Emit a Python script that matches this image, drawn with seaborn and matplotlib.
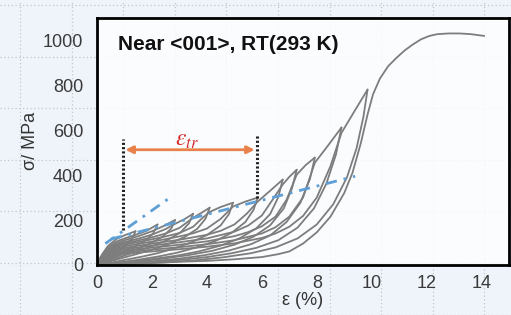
import matplotlib
matplotlib.use("Agg")
import matplotlib.pyplot as plt
import numpy as np
import pandas as pd
import seaborn as sns
from matplotlib.lines import Line2D

# loading / unloading branches, (strain %, stress MPa)
c1_load = [(0, 0), (0.1, 30), (0.2, 50), (0.4, 85), (0.7, 115), (1.0, 132), (1.4, 150)]
c1_unload = [(1.4, 150), (1.3, 122), (1.1, 92), (0.8, 64), (0.5, 40), (0.2, 15), (0, 0)]
c2_load = [(0, 0), (0.2, 46), (0.4, 78), (0.7, 104), (1.0, 118), (1.4, 134), (1.8, 152), (2.2, 180)]
c2_unload = [(2.2, 180), (2.05, 142), (1.8, 112), (1.4, 84), (1.0, 60), (0.6, 38), (0.3, 19), (0, 0)]
c3_load = [(0, 0), (0.2, 43), (0.4, 72), (0.7, 96), (1.0, 110), (1.5, 128), (2.0, 150), (2.4, 172), (2.84, 200)]
c3_unload = [(2.84, 200), (2.7, 162), (2.4, 127), (2.0, 99), (1.5, 73), (1.0, 51), (0.5, 27), (0, 0)]
c4_load = [(0, 0), (0.2, 40), (0.4, 68), (0.7, 90), (1.0, 102), (1.5, 117), (2.0, 135), (2.5, 160),
           (2.84, 183), (3.2, 205), (3.5, 228)]
c4_unload = [(3.5, 228), (3.35, 186), (3.05, 146), (2.6, 113), (2.0, 83), (1.4, 58), (0.8, 34), (0.3, 12), (0, 0)]
c5_load = [(0, 0), (0.2, 38), (0.4, 64), (0.7, 85), (1.0, 96), (1.5, 109), (2.0, 123), (2.5, 140),
           (3.0, 165), (3.5, 210), (3.8, 232), (4.1, 255)]
c5_unload = [(4.1, 255), (3.95, 206), (3.65, 161), (3.2, 125), (2.6, 93), (2.0, 68), (1.4, 47), (0.8, 27),
             (0.3, 10), (0, 0)]
c6_load = [(0, 0), (0.2, 36), (0.4, 60), (0.7, 80), (1.0, 90), (1.5, 102), (2.0, 114), (2.5, 127),
           (3.0, 142), (3.5, 170), (3.8, 205), (4.1, 236), (4.5, 258), (4.95, 277)]
c6_unload = [(4.95, 277), (4.8, 226), (4.5, 176), (4.0, 133), (3.4, 99), (2.8, 73), (2.2, 52), (1.6, 36),
             (1.0, 22), (0.5, 10), (0, 0)]
c7_load = [(0, 0), (0.2, 34), (0.4, 56), (0.7, 74), (1.0, 83), (1.5, 94), (2.0, 104), (2.5, 115),
           (3.0, 127), (3.5, 141), (4.0, 162), (4.5, 205), (4.95, 260), (5.4, 282), (5.85, 300)]
c7_unload = [(5.85, 300), (5.7, 246), (5.4, 191), (4.9, 143), (4.3, 106), (3.6, 77), (2.9, 54), (2.2, 37),
             (1.5, 23), (0.8, 11), (0, 0)]
c8_load = [(0, 0), (0.2, 32), (0.4, 52), (0.7, 68), (1.0, 76), (2.0, 95), (3.0, 112), (4.0, 134),
           (4.5, 152), (5.0, 180), (5.45, 228), (5.85, 282), (6.3, 330), (6.76, 380)]
c8_unload = [(6.76, 380), (6.6, 302), (6.3, 226), (5.8, 163), (5.2, 119), (4.5, 86), (3.7, 60), (2.9, 41),
             (2.0, 26), (1.2, 14), (0.5, 5), (0, 0)]
c9_load = [(0, 0), (0.2, 30), (0.4, 48), (0.7, 62), (1.0, 70), (2.0, 86), (3.0, 101), (4.0, 118),
           (5.0, 148), (5.5, 175), (6.0, 220), (6.4, 292), (6.76, 358), (7.0, 392), (7.27, 424)]
c9_unload = [(7.27, 424), (7.1, 342), (6.8, 252), (6.3, 176), (5.7, 126), (5.0, 90), (4.2, 63), (3.3, 43),
             (2.4, 28), (1.5, 15), (0.7, 6), (0, 0)]
c10_load = [(0, 0), (0.2, 28), (0.4, 44), (0.7, 56), (1.0, 63), (2.0, 77), (3.0, 90), (4.0, 105),
            (5.0, 128), (5.5, 146), (6.0, 172), (6.5, 215), (6.9, 290), (7.27, 402), (7.6, 445), (7.93, 478)]
c10_unload = [(7.93, 478), (7.75, 382), (7.4, 276), (6.9, 191), (6.3, 131), (5.6, 92), (4.8, 64), (3.9, 43),
              (3.0, 28), (2.0, 16), (1.0, 7), (0, 0)]
c11_load = [(0, 0), (0.2, 25), (0.4, 40), (0.7, 50), (1.0, 56), (2.0, 68), (3.0, 79), (4.0, 92),
            (5.0, 110), (6.0, 140), (6.5, 168), (7.0, 215), (7.5, 300), (7.93, 455), (8.4, 530), (8.9, 612)]
c11_unload = [(8.9, 612), (8.7, 492), (8.35, 362), (7.9, 252), (7.3, 166), (6.6, 110), (5.8, 76), (4.9, 52),
              (4.0, 35), (3.0, 22), (2.0, 12), (1.0, 5), (0, 0)]
c12_load = [(0, 0), (0.2, 22), (0.4, 35), (0.7, 44), (1.0, 50), (2.0, 60), (3.0, 70), (4.0, 81),
            (5.0, 96), (6.0, 120), (6.5, 140), (7.0, 170), (7.5, 218), (8.0, 300), (8.5, 440), (8.9, 588),
            (9.4, 690), (9.85, 781)]
c12_unload = [(9.85, 781), (9.7, 660), (9.45, 520), (9.1, 390), (8.6, 270), (8.0, 180), (7.3, 118), (6.5, 78),
              (5.6, 52), (4.6, 34), (3.6, 21), (2.6, 12), (1.6, 6), (0.7, 2), (0, 0)]
final_load = [(0, 0), (1.0, 5), (2.0, 9), (3.0, 14), (4.0, 18), (5.0, 25), (6.0, 35), (6.6, 48), (7.0, 60),
              (7.5, 95), (8.0, 145), (8.5, 215), (9.0, 320), (9.3, 410), (9.6, 540), (9.85, 670),
              (10.05, 760), (10.3, 830), (10.6, 885), (10.9, 922), (11.2, 955), (11.5, 982), (11.8, 1005),
              (12.1, 1020), (12.4, 1028), (12.8, 1031), (13.2, 1031), (13.6, 1028), (14.1, 1020)]

# blue dash-dot fit lines
fit_steep_x = [0.3, 2.6]
fit_steep_y = [95, 295]
fit_plateau_x = [0.5, 9.4]
fit_plateau_y = [115, 395]

# transformation strain markers
etr_start = 0.95
etr_end = 5.82
etr_start_span = [156, 560]
etr_end_span = [300, 580]
etr_level = 513

branches = {
    "c1_load": c1_load, "c1_unload": c1_unload, "c2_load": c2_load, "c2_unload": c2_unload,
    "c3_load": c3_load, "c3_unload": c3_unload, "c4_load": c4_load, "c4_unload": c4_unload,
    "c5_load": c5_load, "c5_unload": c5_unload, "c6_load": c6_load, "c6_unload": c6_unload,
    "c7_load": c7_load, "c7_unload": c7_unload, "c8_load": c8_load, "c8_unload": c8_unload,
    "c9_load": c9_load, "c9_unload": c9_unload, "c10_load": c10_load, "c10_unload": c10_unload,
    "c11_load": c11_load, "c11_unload": c11_unload, "c12_load": c12_load, "c12_unload": c12_unload,
    "final": final_load,
}

rows = []
for name, pts in branches.items():
    for eps, sig in pts:
        rows.append({"branch": name, "strain": eps, "stress": sig})
df = pd.DataFrame(rows)

sns.set_theme(style="white")
plt.rcParams["font.family"] = ["Liberation Sans", "DejaVu Sans"]
plt.rcParams["mathtext.fontset"] = "stix"

fig = plt.figure(figsize=(5.11, 3.15), dpi=100, facecolor="#eef4fa")

# faint dotted page grid behind everything
for gx in np.arange(20, 511, 51.6):
    fig.add_artist(Line2D([gx / 511, gx / 511], [0, 1], transform=fig.transFigure,
                          color="#bfc7cf", lw=0.9, ls=(0, (1, 2)), zorder=-5))
for gy in np.arange(5, 315, 51.6):
    fig.add_artist(Line2D([0, 1], [1 - gy / 315, 1 - gy / 315], transform=fig.transFigure,
                          color="#bfc7cf", lw=0.9, ls=(0, (1, 2)), zorder=-5))

ax = fig.add_axes([0.19, 0.159, 0.806, 0.784])
ax.set_facecolor("white")
ax.patch.set_alpha(0.82)

sns.lineplot(data=df, x="strain", y="stress", units="branch", estimator=None, sort=False,
             color="#7d7d7d", lw=1.3, ax=ax)

ax.plot(fit_steep_x, fit_steep_y, color="#5e9fd6", lw=2, ls=(0, (4, 2.5, 1, 2.5)))
ax.plot(fit_plateau_x, fit_plateau_y, color="#5e9fd6", lw=2, ls=(0, (4, 2.5, 1, 2.5)))

ax.plot([etr_start, etr_start], etr_start_span, color="#222222", lw=2.2, ls=(0, (0.7, 0.7)))
ax.plot([etr_end, etr_end], etr_end_span, color="#222222", lw=2.2, ls=(0, (0.7, 0.7)))
ax.annotate("", xy=(etr_end - 0.08, etr_level), xytext=(etr_start + 0.08, etr_level),
            arrowprops=dict(arrowstyle="<|-|>", color="#e8824a", lw=2, mutation_scale=11,
                            shrinkA=0, shrinkB=0))
ax.text((etr_start + etr_end) / 2 - 0.1, 555, r"$\varepsilon_{tr}$", color="#d42a2a",
        fontsize=17, ha="center", va="center")

ax.text(0.76, 982, "Near <001>, RT(293 K)", fontweight="bold", fontsize=15,
        ha="left", va="center", color="#111111")

ax.set_xlim(0, 15)
ax.set_ylim(0, 1100)
ax.set_xticks(np.arange(0, 15, 2))
ax.set_yticks(np.arange(0, 1001, 200))
ax.tick_params(axis="both", direction="in", length=4, width=1, labelsize=13,
               labelcolor="#3a3a3a", color="#222222")
ax.tick_params(axis="x", pad=7)
ax.tick_params(axis="y", pad=10)
for sp in ax.spines.values():
    sp.set_color("black")
    sp.set_linewidth(2)

ax.set_xlabel("ε (%)", fontsize=13, color="#333333", labelpad=0)
ax.set_ylabel("σ/ MPa", fontsize=13, color="#333333", labelpad=3)

fig.savefig("out.png", dpi=100, facecolor=fig.get_facecolor())
